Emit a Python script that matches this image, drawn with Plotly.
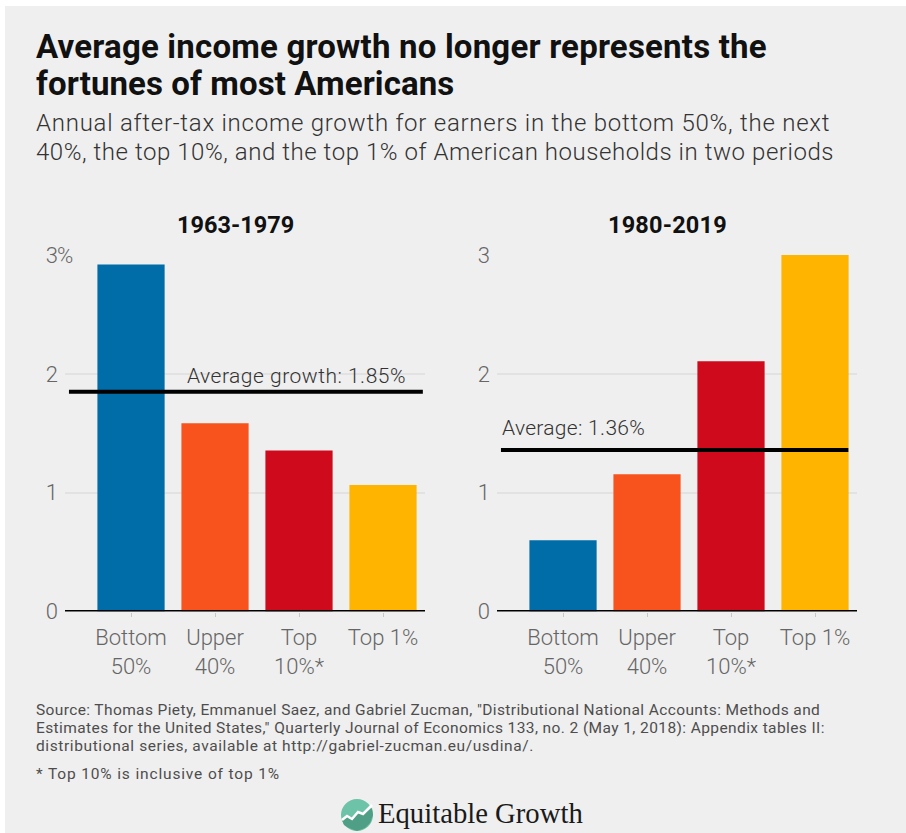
import plotly.graph_objects as go
from plotly.subplots import make_subplots

W, H = 906, 833

categories = ["Bottom<br>50%", "Upper<br>40%", "Top<br>10%*", "Top 1%"]
colors = ["#006CA8", "#F9531D", "#CE0A1C", "#FFB400"]
values_1963_1979 = [2.92, 1.585, 1.355, 1.065]
values_1980_2019 = [0.60, 1.155, 2.105, 3.0]
average_1963_1979 = 1.85
average_1980_2019 = 1.36
y_ticks = [0, 1, 2, 3]

FONT = "Roboto"
BG = "#EFEFEF"
TICK = "#666666"
GRID = "#E2E2E2"

fig = make_subplots(rows=1, cols=2)
for col, values in ((1, values_1963_1979), (2, values_1980_2019)):
    fig.add_trace(go.Bar(x=[0, 1, 2, 3], y=values, marker_color=colors, marker_line_width=0,
                         width=0.8, showlegend=False, hoverinfo="skip"), row=1, col=col)


def px(x):
    return x / W


def py(y):
    return 1 - y / H


fig.update_layout(
    width=W, height=H, margin=dict(l=0, r=0, t=0, b=0, pad=0), paper_bgcolor="white",
    plot_bgcolor="rgba(0,0,0,0)", font=dict(family=FONT),
)
fig.update_xaxes(
    showline=False, ticks="outside", ticklen=4, tickwidth=1, tickcolor="#C8C8C8",
    tickmode="array", tickvals=[0, 1, 2, 3], ticktext=categories,
    tickfont=dict(size=22, color=TICK, family=FONT, weight=300),
    ticklabelstandoff=2, range=[-0.786, 3.5], automargin=False, showgrid=False, zeroline=False,
)
fig.update_yaxes(
    range=[0, 3], tickmode="array", tickvals=y_ticks, ticktext=[str(t) for t in y_ticks],
    showgrid=True, gridcolor=GRID, gridwidth=1.5, zeroline=False, showline=False, ticks="",
    tickfont=dict(size=22, color=TICK, family=FONT, weight=300),
    automargin=False, ticklabelstandoff=6,
)
fig.update_xaxes(domain=[px(65), px(425)], row=1, col=1)
fig.update_xaxes(domain=[px(497), px(857)], row=1, col=2)
fig.update_yaxes(domain=[py(611.5), py(255)], row=1, col=1)
fig.update_yaxes(domain=[py(611.5), py(255)], row=1, col=2)


def pixel_path(points):
    head = f"M {px(points[0][0])} {py(points[0][1])}"
    return head + "".join(f" L {px(a)} {py(b)}" for a, b in points[1:])


# Panel background, axis baselines, average lines and the logo mark
logo_cx, logo_cy, logo_r = 357, 815, 16
shapes = [
    dict(type="rect", xref="paper", yref="paper", x0=px(5), x1=1, y0=0, y1=py(6),
         fillcolor=BG, line_width=0, layer="below"),
    dict(type="circle", xref="paper", yref="paper", x0=px(logo_cx - logo_r), x1=px(logo_cx + logo_r),
         y0=py(logo_cy + logo_r), y1=py(logo_cy - logo_r), fillcolor="#6DC3A7", line_width=0),
    dict(type="path", xref="paper", yref="paper", fillcolor="#4E9F85", line_width=0,
         path=pixel_path([(342, 820), (347, 816), (352, 819), (358, 812), (363, 814), (372, 808),
                          (373, 815), (370, 823), (365, 828), (357, 831), (349, 828), (344, 825)]) + " Z"),
    dict(type="path", xref="paper", yref="paper", line=dict(color="white", width=2.5),
         path=pixel_path([(342, 820), (347, 816), (352, 819), (358, 812), (363, 814), (372, 805)])),
]
for xa, ya, avg, start, end in (("x", "y", average_1963_1979, 0.011, 0.994),
                                ("x2", "y2", average_1980_2019, 0.011, 0.976)):
    shapes.append(dict(type="line", xref=f"{xa} domain", yref=ya, x0=0, x1=1, y0=0, y1=0,
                       line=dict(color="black", width=3)))
    shapes.append(dict(type="line", xref=f"{xa} domain", yref=ya, x0=start, x1=end, y0=avg, y1=avg,
                       line=dict(color="black", width=4)))
fig.update_layout(shapes=shapes)


def text(x, y, s, size, color="#1a1a1a", anchor="left", family=FONT, weight=400, spacing=None):
    if spacing is not None:
        s = f'<span style="letter-spacing:{spacing}px">{s}</span>'
    fig.add_annotation(xref="paper", yref="paper", x=px(x), y=py(y), text=s, showarrow=False,
                       xanchor=anchor, yanchor="middle", align=anchor, borderpad=0, borderwidth=0,
                       font=dict(size=size, color=color, family=family, weight=weight))


text(36, 47, "Average income growth no longer represents the", 33, "#111111", weight=700, spacing=0.2)
text(36, 83, "fortunes of most Americans", 33, "#111111", weight=700, spacing=0.1)
text(36, 123, "Annual after-tax income growth for earners in the bottom 50%, the next", 24, "#333333", weight=300, spacing=0.75)
text(36, 152, "40%, the top 10%, and the top 1% of American households in two periods", 24, "#333333", weight=300, spacing=0.55)
text(235, 225, "1963-1979", 23.5, "#111111", "center", weight=700)
text(667, 225, "1980-2019", 23.5, "#111111", "center", weight=700, spacing=0.2)
text(57, 256, "%", 22, TICK, weight=300)
text(187, 376, "Average growth: 1.85%", 21, "#333333", weight=300, spacing=0.5)
text(502, 428, "Average: 1.36%", 21, "#333333", weight=300, spacing=0.3)
text(36, 710, "Source: Thomas Piety, Emmanuel Saez, and Gabriel Zucman, \"Distributional National Accounts: Methods and", 15.5, "#4D4D4D", spacing=0.38)
text(36, 728, "Estimates for the United States,\" Quarterly Journal of Economics 133, no. 2 (May 1, 2018): Appendix tables II:", 15.5, "#4D4D4D", spacing=0.4)
text(36, 746, "distributional series, available at http://gabriel-zucman.eu/usdina/.", 15.5, "#4D4D4D", spacing=0.6)
text(36, 774, "* Top 10% is inclusive of top 1%", 15.5, "#4D4D4D", spacing=0.85)
text(378, 813, "Equitable Growth", 28.7, "#1a1a1a", family="Liberation Serif")

fig.write_html("out.html")
